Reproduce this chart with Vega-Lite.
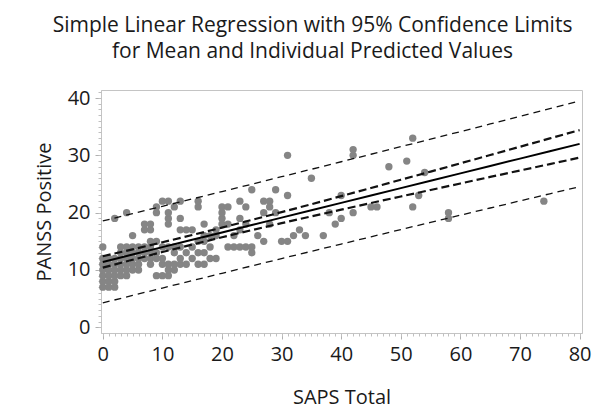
{
  "$schema": "https://vega.github.io/schema/vega-lite/v6.json",
  "autosize": {"type": "none"},
  "width": 481,
  "height": 243,
  "padding": {"left": 101, "top": 90, "right": 19, "bottom": 79},
  "background": "white",
  "config": {
    "font": "Open Sans",
    "view": {"stroke": "#c4c4c4", "strokeWidth": 1},
    "axis": {"grid": false, "domainColor": "#c4c4c4", "tickColor": "#b0b0b0", "labelColor": "#1a1a1a", "titleColor": "#1a1a1a", "labelFont": "Open Sans", "titleFont": "Open Sans", "labelFontSize": 20, "titleFontSize": 20, "titleFontWeight": "normal"}
  },
  "title": {
    "text": ["Simple Linear Regression with 95% Confidence Limits", "for Mean and Individual Predicted Values"],
    "fontSize": 21,
    "fontWeight": "normal",
    "font": "Open Sans",
    "color": "#1a1a1a",
    "lineHeight": 26,
    "offset": 26,
    "dx": -29,
    "anchor": "middle"
  },
  "resolve": {"axis": {"x": "independent", "y": "independent"}},
  "datasets": {
    "pts": [
      {"saps":0,"panss":7},{"saps":0,"panss":8},{"saps":0,"panss":9},{"saps":0,"panss":10},{"saps":0,"panss":11},{"saps":0,"panss":12},{"saps":0,"panss":14},
      {"saps":1,"panss":7},{"saps":1,"panss":8},{"saps":1,"panss":9},{"saps":1,"panss":10},{"saps":1,"panss":11},{"saps":1,"panss":12},
      {"saps":2,"panss":7},{"saps":2,"panss":8},{"saps":2,"panss":9},{"saps":2,"panss":10},{"saps":2,"panss":11},{"saps":2,"panss":12},{"saps":2,"panss":19},
      {"saps":3,"panss":9},{"saps":3,"panss":10},{"saps":3,"panss":11},{"saps":3,"panss":12},{"saps":3,"panss":13},{"saps":3,"panss":14},
      {"saps":4,"panss":9},{"saps":4,"panss":10},{"saps":4,"panss":11},{"saps":4,"panss":12},{"saps":4,"panss":13},{"saps":4,"panss":14},{"saps":4,"panss":20},
      {"saps":5,"panss":10},{"saps":5,"panss":11},{"saps":5,"panss":12},{"saps":5,"panss":13},{"saps":5,"panss":14},{"saps":5,"panss":16},
      {"saps":6,"panss":10},{"saps":6,"panss":11},{"saps":6,"panss":12},{"saps":6,"panss":13},{"saps":6,"panss":14},
      {"saps":7,"panss":12},{"saps":7,"panss":13},{"saps":7,"panss":14},{"saps":7,"panss":17},{"saps":7,"panss":18},
      {"saps":8,"panss":11},{"saps":8,"panss":12},{"saps":8,"panss":13},{"saps":8,"panss":14},{"saps":8,"panss":15},{"saps":8,"panss":17},{"saps":8,"panss":18},
      {"saps":9,"panss":9},{"saps":9,"panss":12},{"saps":9,"panss":13},{"saps":9,"panss":15},{"saps":9,"panss":20},{"saps":9,"panss":21},
      {"saps":10,"panss":9},{"saps":10,"panss":11},{"saps":10,"panss":12},{"saps":10,"panss":14},{"saps":10,"panss":22},
      {"saps":11,"panss":9},{"saps":11,"panss":10},{"saps":11,"panss":11},{"saps":11,"panss":14},{"saps":11,"panss":18},{"saps":11,"panss":19},{"saps":11,"panss":20},{"saps":11,"panss":22},
      {"saps":12,"panss":10},{"saps":12,"panss":11},{"saps":12,"panss":13},{"saps":12,"panss":14},{"saps":12,"panss":21},
      {"saps":13,"panss":11},{"saps":13,"panss":12},{"saps":13,"panss":14},{"saps":13,"panss":17},{"saps":13,"panss":19},{"saps":13,"panss":22},
      {"saps":14,"panss":11},{"saps":14,"panss":13},{"saps":14,"panss":17},
      {"saps":15,"panss":12},{"saps":15,"panss":14},{"saps":15,"panss":17},
      {"saps":16,"panss":11},{"saps":16,"panss":13},{"saps":16,"panss":15},{"saps":16,"panss":21},{"saps":16,"panss":22},
      {"saps":17,"panss":11},{"saps":17,"panss":13},{"saps":17,"panss":15},{"saps":17,"panss":16},{"saps":17,"panss":18},
      {"saps":18,"panss":12},{"saps":18,"panss":14},{"saps":18,"panss":16},
      {"saps":19,"panss":12},{"saps":19,"panss":16},{"saps":19,"panss":17},
      {"saps":20,"panss":18},{"saps":20,"panss":19},{"saps":20,"panss":20},{"saps":20,"panss":21},
      {"saps":21,"panss":14},{"saps":21,"panss":18},{"saps":21,"panss":21},
      {"saps":22,"panss":14},{"saps":22,"panss":16},
      {"saps":23,"panss":14},{"saps":23,"panss":17},{"saps":23,"panss":19},{"saps":23,"panss":22},
      {"saps":24,"panss":14},{"saps":24,"panss":18},{"saps":24,"panss":21},
      {"saps":25,"panss":13},{"saps":25,"panss":14},{"saps":25,"panss":24},
      {"saps":26,"panss":16},
      {"saps":27,"panss":15},{"saps":27,"panss":20},{"saps":27,"panss":22},
      {"saps":28,"panss":18},{"saps":28,"panss":21},{"saps":28,"panss":22},
      {"saps":29,"panss":20},{"saps":29,"panss":24},
      {"saps":30,"panss":15},
      {"saps":31,"panss":15},{"saps":31,"panss":23},{"saps":31,"panss":30},
      {"saps":32,"panss":16},{"saps":33,"panss":17},{"saps":34,"panss":16},
      {"saps":35,"panss":26},{"saps":37,"panss":16},{"saps":38,"panss":20},{"saps":39,"panss":18},
      {"saps":40,"panss":19},{"saps":40,"panss":23},
      {"saps":42,"panss":20},{"saps":42,"panss":30},{"saps":42,"panss":31},
      {"saps":45,"panss":21},{"saps":46,"panss":21},{"saps":48,"panss":28},{"saps":51,"panss":29},
      {"saps":52,"panss":21},{"saps":52,"panss":33},{"saps":53,"panss":23},{"saps":54,"panss":27},
      {"saps":58,"panss":19},{"saps":58,"panss":20},{"saps":74,"panss":22}
    ],
    "fit": [
      {"saps":0,"pred":11.40,"lclm":10.40,"uclm":12.40,"lcl":4.25,"ucl":18.55},
      {"saps":5,"pred":12.69,"lclm":11.78,"uclm":13.60,"lcl":5.55,"ucl":19.83},
      {"saps":10,"pred":13.98,"lclm":13.13,"uclm":14.83,"lcl":6.85,"ucl":21.11},
      {"saps":15,"pred":15.26,"lclm":14.43,"uclm":16.09,"lcl":8.13,"ucl":22.39},
      {"saps":20,"pred":16.55,"lclm":15.71,"uclm":17.39,"lcl":9.42,"ucl":23.68},
      {"saps":25,"pred":17.84,"lclm":16.95,"uclm":18.73,"lcl":10.71,"ucl":24.97},
      {"saps":30,"pred":19.13,"lclm":18.17,"uclm":20.09,"lcl":11.99,"ucl":26.27},
      {"saps":35,"pred":20.41,"lclm":19.35,"uclm":21.47,"lcl":13.25,"ucl":27.57},
      {"saps":40,"pred":21.70,"lclm":20.52,"uclm":22.88,"lcl":14.52,"ucl":28.88},
      {"saps":45,"pred":22.99,"lclm":21.68,"uclm":24.30,"lcl":15.79,"ucl":30.19},
      {"saps":50,"pred":24.28,"lclm":22.82,"uclm":25.74,"lcl":17.05,"ucl":31.51},
      {"saps":55,"pred":25.56,"lclm":23.96,"uclm":27.16,"lcl":18.30,"ucl":32.82},
      {"saps":60,"pred":26.85,"lclm":25.09,"uclm":28.61,"lcl":19.56,"ucl":34.14},
      {"saps":65,"pred":28.14,"lclm":26.23,"uclm":30.05,"lcl":20.81,"ucl":35.47},
      {"saps":70,"pred":29.43,"lclm":27.36,"uclm":31.50,"lcl":22.05,"ucl":36.81},
      {"saps":75,"pred":30.71,"lclm":28.47,"uclm":32.95,"lcl":23.29,"ucl":38.13},
      {"saps":80,"pred":32.00,"lclm":29.60,"uclm":34.40,"lcl":24.53,"ucl":39.47}
    ]
  },
  "layer": [
    {
      "data": {"name": "pts"},
      "mark": {"type": "point", "filled": true, "shape": "circle", "size": 54, "color": "#858585", "opacity": 1},
      "encoding": {
        "x": {"field": "saps", "type": "quantitative", "title": "SAPS Total",
              "scale": {"domain": [-0.3, 80.4], "nice": false, "zero": false},
              "axis": {"orient": "bottom", "values": [0,10,20,30,40,50,60,70,80], "tickSize": 6, "labelPadding": 5, "titlePadding": 23, "labelFlush": false}},
        "y": {"field": "panss", "type": "quantitative", "title": "PANSS Positive",
              "scale": {"domain": [-1, 41.4], "nice": false, "zero": false},
              "axis": {"orient": "left", "values": [0,10,20,30,40], "tickSize": 6, "labelPadding": 5, "titlePadding": 13, "labelFlush": false}}
      }
    },
    {
      "data": {"name": "pts"},
      "mark": {"type": "point", "opacity": 0},
      "encoding": {
        "x": {"field": "saps", "type": "quantitative",
              "axis": {"orient": "bottom", "title": null, "labels": false, "domain": false, "tickSize": 3, "tickColor": "#c0c0c0",
                       "values": [0,1,2,3,4,5,6,7,8,9,10,11,12,13,14,15,16,17,18,19,20,21,22,23,24,25,26,27,28,29,30,31,32,33,34,35,36,37,38,39,40,41,42,43,44,45,46,47,48,49,50,51,52,53,54,55,56,57,58,59,60,61,62,63,64,65,66,67,68,69,70,71,72,73,74,75,76,77,78,79,80]}},
        "y": {"field": "panss", "type": "quantitative",
              "axis": {"orient": "left", "title": null, "labels": false, "domain": false, "tickSize": 3, "tickColor": "#c0c0c0",
                       "values": [0,1,2,3,4,5,6,7,8,9,10,11,12,13,14,15,16,17,18,19,20,21,22,23,24,25,26,27,28,29,30,31,32,33,34,35,36,37,38,39,40,41]}}
      }
    },
    {
      "data": {"name": "fit"},
      "mark": {"type": "line", "color": "#111111", "strokeWidth": 1.3, "strokeDash": [7, 5]},
      "transform": [{"fold": ["lcl", "ucl"], "as": ["band", "val"]}],
      "encoding": {
        "x": {"field": "saps", "type": "quantitative", "axis": null},
        "y": {"field": "val", "type": "quantitative", "axis": null},
        "detail": {"field": "band"}
      }
    },
    {
      "data": {"name": "fit"},
      "mark": {"type": "line", "color": "#111111", "strokeWidth": 2.2, "strokeDash": [8, 4]},
      "transform": [{"fold": ["lclm", "uclm"], "as": ["band", "val"]}],
      "encoding": {
        "x": {"field": "saps", "type": "quantitative", "axis": null},
        "y": {"field": "val", "type": "quantitative", "axis": null},
        "detail": {"field": "band"}
      }
    },
    {
      "data": {"name": "fit"},
      "mark": {"type": "line", "color": "#000000", "strokeWidth": 2},
      "encoding": {
        "x": {"field": "saps", "type": "quantitative", "axis": null},
        "y": {"field": "pred", "type": "quantitative", "axis": null}
      }
    }
  ]
}
